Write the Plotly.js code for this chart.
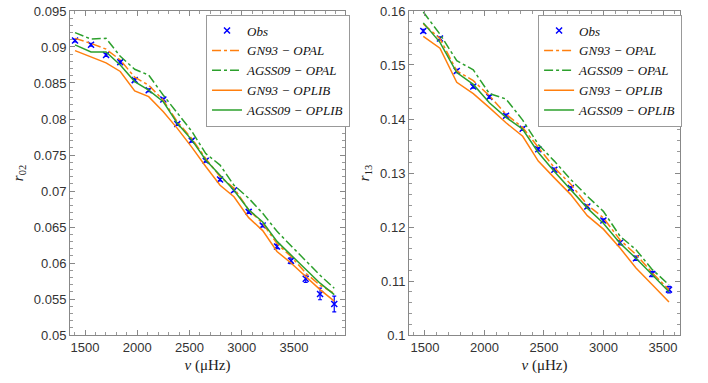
<!DOCTYPE html>
<html>
<head>
<meta charset="utf-8">
<script src="https://cdn.plot.ly/plotly-3.0.1.min.js"></script>
<style>
  html, body { margin: 0; padding: 0; background: #ffffff; }
  #chart { width: 708px; height: 383px; }
</style>
</head>
<body>
<div id="chart"></div>
<script>
// r02 panel (left)
const freq02 = [1404, 1557, 1701, 1837, 1975, 2109, 2249, 2383, 2521, 2655, 2792, 2925, 3066, 3200, 3337, 3471, 3612, 3749, 3885];
const obs02 = [0.0909, 0.0903, 0.0889, 0.0879, 0.0854, 0.0840, 0.0827, 0.0793, 0.0770, 0.0742, 0.0716, 0.0701, 0.0671, 0.0652, 0.0623, 0.0603, 0.0578, 0.0557, 0.0543];
const err02 = [0.0002, 0.0002, 0.0002, 0.0002, 0.0002, 0.0002, 0.0002, 0.0002, 0.0002, 0.0002, 0.0002, 0.0002, 0.0002, 0.0002, 0.0003, 0.0004, 0.0005, 0.0008, 0.0011];
const gn93Opal02 = [0.0912, 0.0905, 0.0897, 0.0882, 0.0858, 0.0847, 0.0826, 0.0796, 0.0773, 0.0745, 0.0720, 0.0704, 0.0674, 0.0655, 0.0627, 0.0609, 0.0586, 0.0569, 0.0558];
const agssOpal02 = [0.0920, 0.0911, 0.0912, 0.0887, 0.0869, 0.0861, 0.0833, 0.0808, 0.0783, 0.0752, 0.0736, 0.0708, 0.0690, 0.0669, 0.0644, 0.0624, 0.0603, 0.0583, 0.0565];
const gn93Oplib02 = [0.0895, 0.0886, 0.0878, 0.0866, 0.0839, 0.0831, 0.0810, 0.0787, 0.0761, 0.0734, 0.0708, 0.0692, 0.0663, 0.0645, 0.0616, 0.0600, 0.0581, 0.0563, 0.0547];
const agssOplib02 = [0.0903, 0.0893, 0.0893, 0.0875, 0.0852, 0.0840, 0.0824, 0.0794, 0.0771, 0.0743, 0.0722, 0.0701, 0.0674, 0.0657, 0.0630, 0.0611, 0.0590, 0.0572, 0.0556];

// r13 panel (right)
const freq13 = [1486, 1626, 1767, 1906, 2041, 2181, 2321, 2452, 2587, 2725, 2864, 2999, 3139, 3273, 3410, 3550];
const obs13 = [0.1563, 0.1549, 0.1489, 0.1460, 0.1441, 0.1406, 0.1382, 0.1344, 0.1306, 0.1272, 0.1238, 0.1212, 0.1171, 0.1142, 0.1113, 0.1084];
const err13 = [0.0003, 0.0003, 0.0003, 0.0003, 0.0003, 0.0003, 0.0003, 0.0003, 0.0003, 0.0003, 0.0003, 0.0003, 0.0004, 0.0004, 0.0005, 0.0006];
const gn93Opal13 = [0.1576, 0.1549, 0.1489, 0.1471, 0.1443, 0.1409, 0.1384, 0.1347, 0.1310, 0.1279, 0.1241, 0.1217, 0.1176, 0.1149, 0.1115, 0.1084];
const agssOpal13 = [0.1598, 0.1557, 0.1508, 0.1491, 0.1447, 0.1437, 0.1398, 0.1353, 0.1322, 0.1288, 0.1257, 0.1229, 0.1183, 0.1158, 0.1121, 0.1093];
const gn93Oplib13 = [0.1553, 0.1531, 0.1468, 0.1447, 0.1421, 0.1393, 0.1368, 0.1322, 0.1291, 0.1260, 0.1221, 0.1196, 0.1161, 0.1124, 0.1093, 0.1061];
const agssOplib13 = [0.1578, 0.1542, 0.1486, 0.1464, 0.1430, 0.1403, 0.1381, 0.1338, 0.1303, 0.1269, 0.1235, 0.1207, 0.1170, 0.1142, 0.1111, 0.1080];

const seriesNames = ['Obs', 'GN93 \u2212 OPAL', 'AGSS09 \u2212 OPAL', 'GN93 \u2212 OPLIB', 'AGSS09 \u2212 OPLIB'];

const ORANGE = '#ff7f0e';
const GREEN = '#2ca02c';
const BLUE = '#0000ff';

function panelTraces(x, obs, err, models, xa, ya, legendId) {
    const traces = [{
        x: x, y: obs, name: seriesNames[0], type: 'scatter', mode: 'markers',
        xaxis: xa, yaxis: ya, legend: legendId,
        marker: { symbol: 'x-thin', size: 6, color: BLUE, line: { color: BLUE, width: 1.5 } },
        error_y: { type: 'data', array: err, visible: true, color: BLUE, thickness: 1.2, width: 2 }
    }];
    const styles = [
        { color: ORANGE, dash: 'dashdot' },
        { color: GREEN, dash: 'dashdot' },
        { color: ORANGE, dash: 'solid' },
        { color: GREEN, dash: 'solid' }
    ];
    models.forEach((m, i) => {
        traces.push({
            x: x, y: m, name: seriesNames[i + 1], type: 'scatter', mode: 'lines',
            xaxis: xa, yaxis: ya, legend: legendId,
            line: { color: styles[i].color, dash: styles[i].dash, width: 1.5 }
        });
    });
    return traces;
}

const data = [].concat(
    panelTraces(freq02, obs02, err02, [gn93Opal02, agssOpal02, gn93Oplib02, agssOplib02], 'x', 'y', 'legend'),
    panelTraces(freq13, obs13, err13, [gn93Opal13, agssOpal13, gn93Oplib13, agssOplib13], 'x2', 'y2', 'legend2')
);

const tickFont = { family: 'Liberation Sans, Arial, sans-serif', size: 13, color: '#333333' };
const mathFont = { family: 'Liberation Serif, DejaVu Serif, serif', size: 15, color: '#222222' };

function xAxis(domain, range, anchor) {
    return {
        domain: domain, range: range, anchor: anchor,
        tickvals: [1500, 2000, 2500, 3000, 3500],
        ticks: 'inside', ticklen: 5, tickcolor: '#888888',
        minor: { dtick: 100, tick0: 0, ticks: 'inside', ticklen: 3, tickcolor: '#999999' },
        showline: true, linecolor: '#888888', linewidth: 1, mirror: 'ticks',
        showgrid: false, zeroline: false,
        tickfont: tickFont,
        title: { text: '<i>\u03bd</i> (\u03bcHz)', font: mathFont, standoff: 5 }
    };
}

function yAxis(domain, range, dtick, minorDtick, anchor, label) {
    return {
        domain: domain, range: range, anchor: anchor,
        dtick: dtick, tick0: range[0],
        ticks: 'inside', ticklen: 5, tickcolor: '#888888',
        minor: { dtick: minorDtick, ticks: 'inside', ticklen: 3, tickcolor: '#999999' },
        showline: true, linecolor: '#888888', linewidth: 1, mirror: 'ticks',
        showgrid: false, zeroline: false,
        tickfont: tickFont,
        title: { text: label, font: mathFont, standoff: 6 }
    };
}

const legendStyle = {
    y: 0.962, yanchor: 'top', xanchor: 'left',
    bgcolor: '#ffffff', bordercolor: '#999999', borderwidth: 1,
    font: { family: 'Liberation Serif, DejaVu Serif, serif', size: 13, style: 'italic', color: '#111111' },
    itemwidth: 30, tracegroupgap: 0
};

const layout = {
    width: 708, height: 383,
    margin: { l: 0, r: 0, t: 0, b: 0 },
    paper_bgcolor: '#ffffff', plot_bgcolor: '#ffffff',
    showlegend: true,
    xaxis: xAxis([0.0989, 0.4873], [1356, 3988], 'y'),
    yaxis: yAxis([0.1253, 0.9713], [0.05, 0.095], 0.005, 0.001, 'x', '<i>r</i><sub>02</sub>'),
    xaxis2: xAxis([0.5777, 0.9605], [1366, 3643], 'y2'),
    yaxis2: yAxis([0.1253, 0.9713], [0.1, 0.16], 0.01, 0.002, 'x2', '<i>r</i><sub>13</sub>'),
    legend: Object.assign({ x: 0.291 }, legendStyle),
    legend2: Object.assign({ x: 0.760 }, legendStyle)
};

Plotly.newPlot('chart', data, layout, { displayModeBar: false, staticPlot: true });
</script>
</body>
</html>
